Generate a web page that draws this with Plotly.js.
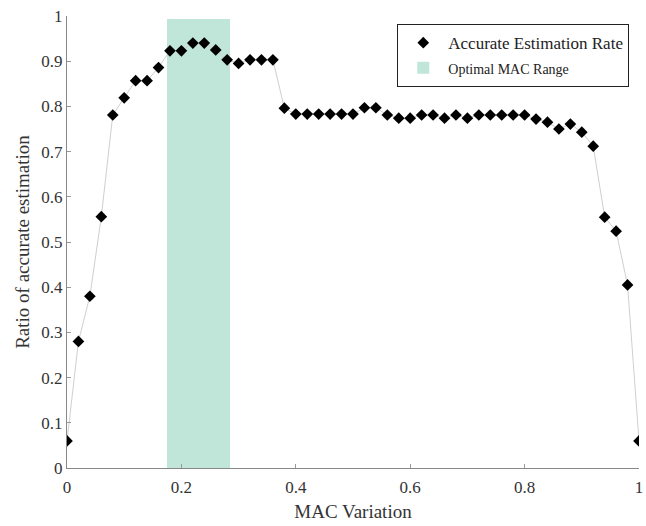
<!DOCTYPE html>
<html>
<head>
<meta charset="utf-8">
<script src="https://cdn.plot.ly/plotly-3.0.1.min.js"></script>
<style>html,body{margin:0;padding:0;background:#fff;}#chart{width:646px;height:526px;}</style>
</head>
<body>
<div id="chart"></div>
<script>
const macVariation = [0,0.02,0.04,0.06,0.08,0.10,0.12,0.14,0.16,0.18,0.20,0.22,0.24,0.26,0.28,0.30,0.32,0.34,0.36,0.38,0.40,0.42,0.44,0.46,0.48,0.50,0.52,0.54,0.56,0.58,0.60,0.62,0.64,0.66,0.68,0.70,0.72,0.74,0.76,0.78,0.80,0.82,0.84,0.86,0.88,0.90,0.92,0.94,0.96,0.98,1.00];
const accurateRate = [0.06,0.28,0.38,0.556,0.781,0.819,0.857,0.857,0.886,0.923,0.923,0.94,0.94,0.925,0.903,0.895,0.903,0.903,0.903,0.796,0.783,0.783,0.783,0.783,0.783,0.783,0.797,0.797,0.781,0.774,0.774,0.781,0.781,0.774,0.781,0.774,0.781,0.781,0.781,0.781,0.781,0.772,0.765,0.75,0.761,0.743,0.712,0.555,0.524,0.405,0.06];
const optimalRange = [0.175, 0.285];
const optimalTop = [0.993];
const xTicks = [0,0.2,0.4,0.6,0.8,1];
const xTickText = ['0','0.2','0.4','0.6','0.8','1'];
const yTicks = [0,0.1,0.2,0.3,0.4,0.5,0.6,0.7,0.8,0.9,1];
const yTickText = ['0','0.1','0.2','0.3','0.4','0.5','0.6','0.7','0.8','0.9','1'];

const serif = 'Liberation Serif, Times New Roman, serif';

const traces = [
  {
    type: 'bar',
    x: [(optimalRange[0] + optimalRange[1]) / 2],
    y: optimalTop,
    width: [optimalRange[1] - optimalRange[0]],
    marker: {color: '#c0e5d9', line: {width: 0}},
    name: '<span style="font-size:14px">Optimal MAC Range</span>',
    hoverinfo: 'skip'
  },
  {
    type: 'scatter',
    mode: 'lines',
    x: macVariation,
    y: accurateRate,
    line: {color: '#cfcfcf', width: 1},
    showlegend: false,
    hoverinfo: 'skip'
  },
  {
    type: 'scatter',
    mode: 'markers',
    x: macVariation,
    y: accurateRate,
    marker: {symbol: 'diamond', size: 9, color: '#000'},
    name: 'Accurate Estimation Rate'
  }
];

const layout = {
  width: 646, height: 526,
  margin: {l: 67, r: 7, t: 16, b: 58},
  paper_bgcolor: '#fff', plot_bgcolor: '#fff',
  font: {family: serif, color: '#222', size: 16},
  showlegend: true,
  legend: {
    x: 0.983, y: 0.982, xanchor: 'right', yanchor: 'top',
    traceorder: 'reversed',
    bordercolor: '#222', borderwidth: 1, bgcolor: '#fff',
    font: {family: serif, size: 17, color: '#222'},
    itemwidth: 40,
    tracegroupgap: 0
  },
  xaxis: {
    range: [0, 1], tickvals: xTicks, ticktext: xTickText,
    ticks: 'inside', ticklen: 4, tickcolor: '#999',
    showline: true, linecolor: '#888', linewidth: 1, mirror: false,
    showgrid: false, zeroline: false,
    ticklabelstandoff: 4,
    tickfont: {family: serif, size: 17, color: '#333'},
    title: {text: 'MAC Variation', font: {family: serif, size: 19, color: '#333'}, standoff: 8}
  },
  yaxis: {
    range: [0, 1], tickvals: yTicks, ticktext: yTickText,
    ticks: 'inside', ticklen: 4, tickcolor: '#999',
    showline: true, linecolor: '#888', linewidth: 1, mirror: false,
    showgrid: false, zeroline: false,
    tickfont: {family: serif, size: 17, color: '#333'},
    title: {text: 'Ratio of accurate estimation', font: {family: serif, size: 19, color: '#333'}, standoff: 6}
  },
  bargap: 0
};

Plotly.newPlot('chart', traces, layout, {displayModeBar: false, staticPlot: true});
</script>
</body>
</html>
